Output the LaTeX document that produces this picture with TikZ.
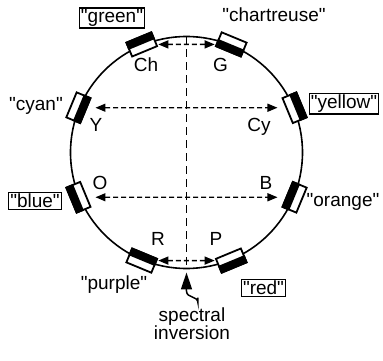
\documentclass[tikz,border=0pt]{standalone}
\usepackage{fontspec}
\setmainfont{Liberation Sans}[Ligatures=TeXOff]
\usetikzlibrary{arrows.meta}

\tikzset{
  sensor/.style={draw, line width=1.8pt, fill=white, minimum width=27pt, minimum height=15pt, inner sep=0pt},
  tag/.style={font=\fontsize{19}{18}\selectfont, inner sep=0pt, anchor=base},
  boxtag/.style={tag, draw, line width=1.3pt, inner sep=1.5pt},
  pairArrow/.style={{Triangle[length=10pt,width=8pt]}-{Triangle[length=10pt,width=8pt]}, line width=1.4pt, dash pattern=on 5pt off 3pt},
}

\begin{document}
\begin{tikzpicture}[x=1pt,y=1pt]
  % --- PARAMETERS ---
  \pgfmathsetmacro{\ringR}{116}   % radius of the ring
  \pgfmathsetmacro{\sensR}{117}   % radius where the sensors sit

  \useasboundingbox (-186.5,-208.5) rectangle (196.5,152.5);

  % Ring
  \draw[line width=1.6pt] (0,0) circle (\ringR);
  \coordinate (top) at (90:\ringR);
  \coordinate (bot) at (270:\ringR);

  % Sensors (dark half inside or outside)
  \foreach \ang/\nm/\cA/\cB in {22.5/sYellow/north west/north east, 67.5/sChart/south west/south east,
      112.5/sGreen/north west/north east, 157.5/sCyan/south west/south east,
      202.5/sBlue/north west/north east, 247.5/sPurple/south west/south east,
      292.5/sRed/north west/north east, 337.5/sOrange/south west/south east} {
    \node[sensor, rotate=\ang-90] (\nm) at (\ang:\sensR) {};
    \fill (\nm.\cA) -- (\nm.\cB) -- (\nm.east) -- (\nm.west) -- cycle;
  }

  % Vertical axis
  \draw[line width=1.4pt, dash pattern=on 8pt off 5pt] (top) -- (bot);

  % Pairs
  \draw[pairArrow, shorten <=1pt, shorten >=1pt] (sGreen) -- (sChart);
  \draw[pairArrow, shorten <=8pt, shorten >=8pt] (sCyan) -- (sYellow);
  \draw[pairArrow, shorten <=8pt, shorten >=8pt] (sBlue) -- (sOrange);
  \draw[pairArrow, shorten <=1pt, shorten >=1pt] (sPurple) -- (sRed);

  % Names
  \node[boxtag] (lGreen) at (-74.5,129.8) {"green"};
  \node[tag] (lChart) at (87.5,131) {"chartreuse"};
  \node[tag] (lCh) at (-40.5,80.5) {Ch};
  \node[tag] (lG) at (34,80.5) {G};
  \node[tag] (lCyan) at (-150.5,42) {"cyan"};
  \node[tag] (lY) at (-90.5,20.5) {Y};
  \node[tag] (lCy) at (72.5,20.5) {Cy};
  \node[boxtag] (lYellow) at (157.5,43.8) {"yellow"};
  \node[tag] (lO) at (-86.5,-37) {O};
  \node[tag] (lB) at (79.5,-37) {B};
  \node[boxtag] (lBlue) at (-151.5,-55.5) {"blue"};
  \node[tag] (lOrange) at (156.5,-54.2) {"orange"};
  \node[tag] (lR) at (-28.5,-93) {R};
  \node[tag] (lP) at (29.5,-93) {P};
  \node[tag] (lPurple) at (-72.5,-137.5) {"purple"};
  \node[boxtag] (lRed) at (77,-142.5) {"red"};

  % Spectral inversion
  \node[tag, align=center, inner sep=1.5pt] (spec) at (5.5,-186.5) {spectral\\inversion};
  \draw[line width=1.5pt, -{Triangle[length=17pt,width=11pt]}, shorten <=8pt, shorten >=4pt]
    ([xshift=6pt]spec.north) -- (11.5,-150.5) .. controls (11.5,-143) and (0,-146) .. (0,-138.5) -- (bot);
\end{tikzpicture}
\end{document}
